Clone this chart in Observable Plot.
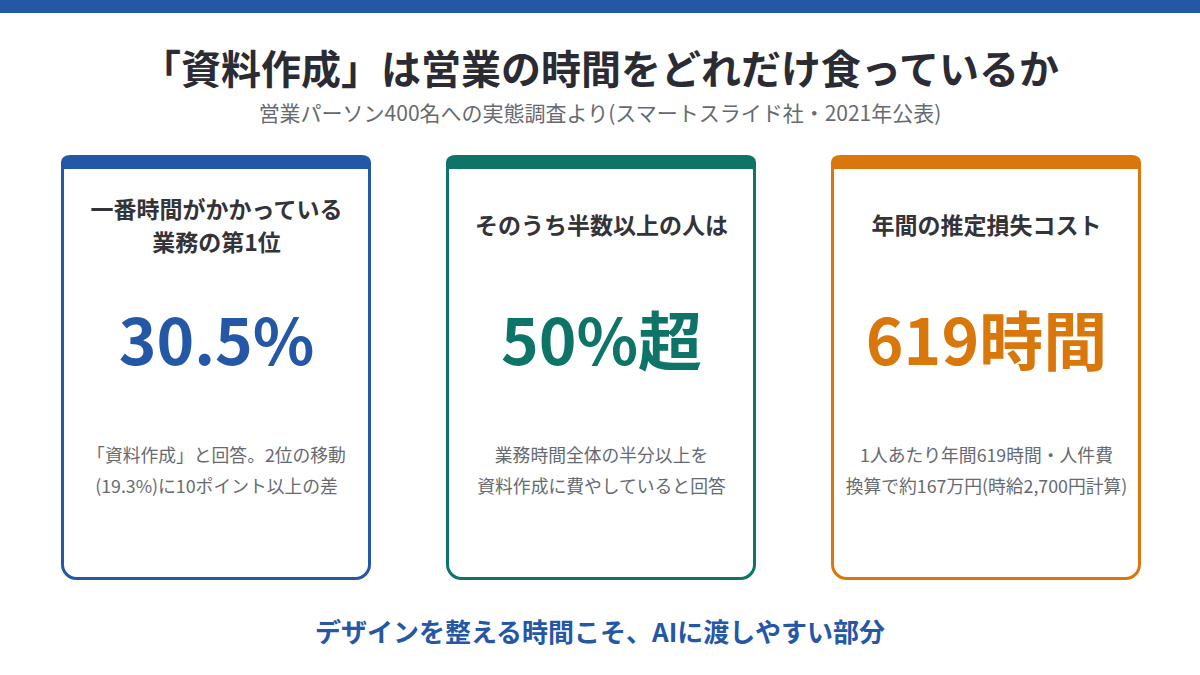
<!DOCTYPE html>
<html lang="ja">
<head>
<meta charset="utf-8">
<script src="https://cdn.jsdelivr.net/npm/d3@7"></script>
<script src="https://cdn.jsdelivr.net/npm/@observablehq/plot@0.6"></script>
<style>
  html, body { margin: 0; padding: 0; background: #ffffff; }
  body { width: 1200px; height: 675px; overflow: hidden; font-family: "Noto Sans CJK JP", "Noto Sans", sans-serif; }
  .topbar { height: 13px; background: #2557a7; }
  .header { height: 127px; text-align: center; }
  .title { padding-top: 34px; height: 40px; line-height: 40px; font-size: 40px; font-weight: 700; color: #2b2b33; letter-spacing: 0; }
  .subtitle { margin-top: 12px; height: 26px; line-height: 26px; font-size: 21px; color: #666a70; }
  #chart { height: 460px; }
  #chart svg { display: block; }
  .footer { height: 75px; text-align: center; font-size: 26px; font-weight: 700; color: #2557a7; line-height: 30px; padding-top: 16px; box-sizing: border-box; }
</style>
</head>
<body>
<div class="topbar"></div>
<div class="header">
  <div class="title" id="title"></div>
  <div class="subtitle" id="subtitle"></div>
</div>
<div id="chart"></div>
<div class="footer" id="footer"></div>
<script>
// ---- data ----
const titleText = "「資料作成」は営業の時間をどれだけ食っているか";
const subtitleText = "営業パーソン400名への実態調査より(スマートスライド社・2021年公表)";
const footerText = "デザインを整える時間こそ、AIに渡しやすい部分";
const cardKeys = ["rank", "share", "loss"];
const headings = ["一番時間がかかっている\n業務の第1位", "そのうち半数以上の人は", "年間の推定損失コスト"];
const values = ["30.5%", "50%超", "619時間"];
const notes = [
  "「資料作成」と回答。2位の移動\n(19.3%)に10ポイント以上の差",
  "業務時間全体の半分以上を\n資料作成に費やしていると回答",
  "1人あたり年間619時間・人件費\n換算で約167万円(時給2,700円計算)"
];

// ---- styles / layout ----
const palette = ["#2557a7", "#0e7468", "#d9770a"];
const W = 1200, H = 460, mTop = 15, mBottom = 20;
const cardH = H - mTop - mBottom;
const bandTop = 14;

document.getElementById("title").textContent = titleText;
document.getElementById("subtitle").textContent = subtitleText;
document.getElementById("footer").textContent = footerText;

const cards = cardKeys.map((k, i) => ({key: k, heading: headings[i], value: values[i], note: notes[i]}));

const chart = Plot.plot({
  width: W,
  height: H,
  marginTop: mTop,
  marginBottom: mBottom,
  marginLeft: 61,
  marginRight: 59,
  x: {type: "band", domain: cardKeys, paddingInner: 75 / 385, paddingOuter: 0, axis: null},
  y: {axis: null},
  color: {domain: cardKeys, range: palette},
  style: {fontFamily: "'Noto Sans CJK JP', 'Noto Sans', sans-serif", background: "#ffffff"},
  marks: [
    Plot.cell(cards, {x: "key", fill: "#ffffff", stroke: "key", strokeWidth: 3, inset: 1.5, rx: 14}),
    Plot.cell(cards, {x: "key", fill: "key", insetBottom: cardH - bandTop, rx: 9}),
    Plot.cell(cards, {x: "key", fill: "key", insetTop: bandTop / 2, insetBottom: cardH - bandTop}),
    Plot.text(cards, {x: "key", frameAnchor: "top", dy: 68, text: "heading", fontSize: 23, fontWeight: 700, fill: "#333338", lineAnchor: "middle", lineHeight: 1.45}),
    Plot.text(cards, {x: "key", frameAnchor: "top", dy: 189, text: "value", fontSize: 64, fontWeight: 700, fill: "key", lineAnchor: "middle"}),
    Plot.text(cards, {x: "key", frameAnchor: "top", dy: 312.5, text: "note", fontSize: 17.8, fill: "#666a70", lineAnchor: "middle", lineHeight: 1.74})
  ]
});
document.getElementById("chart").appendChild(chart);
</script>
</body>
</html>
